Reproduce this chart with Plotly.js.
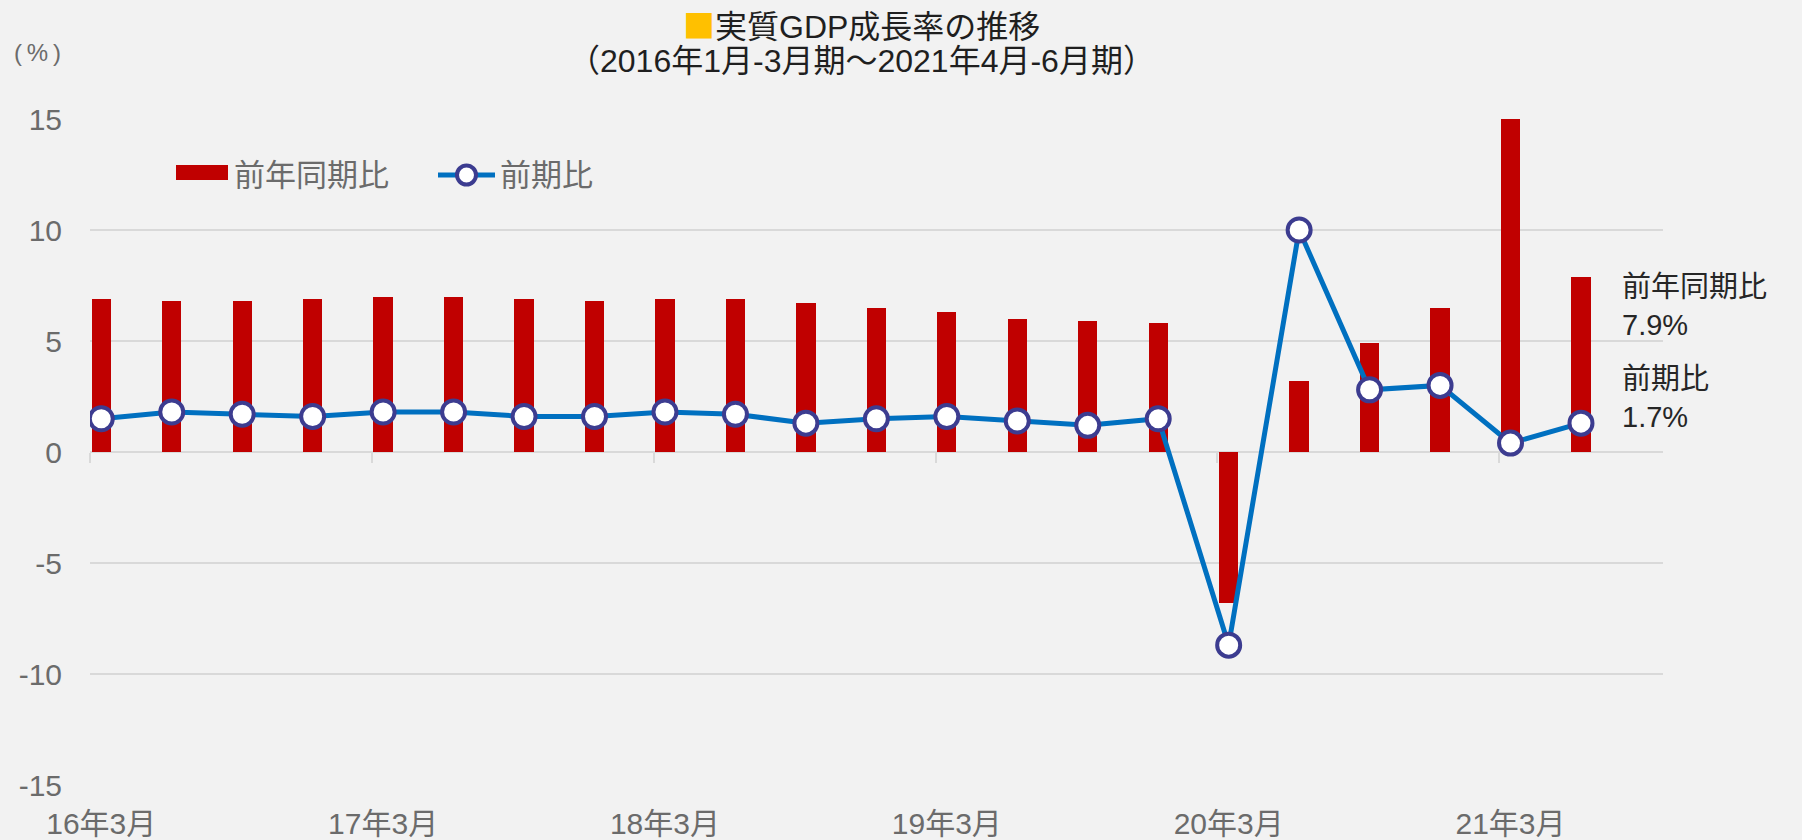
<!DOCTYPE html>
<html>
<head>
<meta charset="utf-8">
<script src="https://cdn.plot.ly/plotly-3.0.1.min.js"></script>
<style>
  html, body { margin: 0; padding: 0; background: #f2f2f2; }
  #chart { width: 1802px; height: 840px; }
</style>
</head>
<body>
<div id="chart"></div>
<script>
// ---- data ----
const quarters = [
  "16年3月","16年6月","16年9月","16年12月",
  "17年3月","17年6月","17年9月","17年12月",
  "18年3月","18年6月","18年9月","18年12月",
  "19年3月","19年6月","19年9月","19年12月",
  "20年3月","20年6月","20年9月","20年12月",
  "21年3月","21年6月"
];
const yoy = [6.9, 6.8, 6.8, 6.9, 7.0, 7.0, 6.9, 6.8, 6.9, 6.9, 6.7, 6.5,
             6.3, 6.0, 5.9, 5.8, -6.8, 3.2, 4.9, 6.5, 18.3, 7.9];
const qoq = [1.5, 1.8, 1.7, 1.6, 1.8, 1.8, 1.6, 1.6, 1.8, 1.7, 1.3, 1.5,
             1.6, 1.4, 1.2, 1.5, -8.7, 10.0, 2.8, 3.0, 0.4, 1.3];
const tickLabels = ["16年3月","17年3月","18年3月","19年3月","20年3月","21年3月"];
const yTicks = [-15, -10, -5, 0, 5, 10, 15];
const yTickText = ["-15", "-10", "-5", "0", "5", "10", "15"];
const seriesNames = ["前年同期比", "前期比"];
const lastNotes = ["前年同期比<br>7.9%", "前期比<br>1.7%"];
const titleLines = [
  '<span style="color:#FFC000;font-family:\'Noto Sans CJK JP\'">■</span>実質GDP成長率の推移',
  '（2016年1月-3月期～2021年4月-6月期）'
];

const FONT = "'Liberation Sans', Arial, 'Noto Sans CJK JP', sans-serif";
const RED = "#C00000", BLUE = "#0070C0", NAVY = "#3C3C90";
const GRID = "#d9d9d9", AXT = "#6b6b6b";

const xRange = [-0.16, quarters.length - 1 + 1.164];
// tick marks sit slightly left of each labelled quarter
const tickMarkPos = tickLabels.map(t => quarters.indexOf(t) - 0.16);

const traces = [
  {
    type: "bar", name: seriesNames[0], x: quarters, y: yoy,
    width: 0.274, marker: { color: RED }, showlegend: false, hoverinfo: "x+y"
  },
  {
    type: "scatter", mode: "lines+markers", name: seriesNames[1], x: quarters, y: qoq,
    line: { color: BLUE, width: 5 },
    marker: { symbol: "circle", size: 23, color: "#ffffff", line: { color: NAVY, width: 4 } },
    showlegend: false, hoverinfo: "x+y"
  },
  { type: "scatter", x: [], y: [], xaxis: "x2", yaxis: "y", showlegend: false, hoverinfo: "skip" }
];

// legend drawn to match the reference look
const L = 90, T = 119, W = 1573, H = 666;
const px = v => (v - L) / W, py = v => (T + H - v) / H;

const layout = {
  width: 1802, height: 840,
  paper_bgcolor: "#f2f2f2", plot_bgcolor: "#f2f2f2",
  margin: { l: 90, r: 139, t: 119, b: 55, pad: 0 },
  font: { family: FONT, color: AXT, size: 30 },
  xaxis: {
    type: "category", categoryorder: "array", categoryarray: quarters,
    range: xRange, tickmode: "array", tickvals: tickLabels, ticktext: tickLabels,
    ticks: "", showgrid: false, zeroline: false, showline: false,
    tickfont: { family: FONT, size: 30, color: AXT }, ticklabelstandoff: 18,
    fixedrange: true
  },
  xaxis2: {
    overlaying: "x", anchor: "free", position: 0.5, side: "bottom",
    type: "linear", range: xRange, tickmode: "array", tickvals: tickMarkPos,
    ticks: "outside", ticklen: 10, tickwidth: 2, tickcolor: GRID,
    showticklabels: false, showgrid: false, zeroline: false, showline: false
  },
  yaxis: {
    range: [-15, 15], tickmode: "array", tickvals: yTicks, ticktext: yTickText,
    ticks: "", showgrid: true, gridcolor: GRID, gridwidth: 2,
    zeroline: true, zerolinecolor: GRID, zerolinewidth: 2, showline: false,
    tickfont: { family: FONT, size: 30, color: AXT }, ticklabelstandoff: 27,
    fixedrange: true
  },
  bargap: 0,
  shapes: [
    { type: "rect", xref: "paper", yref: "paper", x0: px(176), x1: px(228), y0: py(180), y1: py(165),
      fillcolor: RED, line: { width: 0 } },
    { type: "line", xref: "paper", yref: "paper", x0: px(438), x1: px(495), y0: py(175), y1: py(175),
      line: { color: BLUE, width: 5 } },
    { type: "circle", xref: "paper", yref: "paper", xsizemode: "pixel", ysizemode: "pixel",
      xanchor: px(466.5), yanchor: py(175), x0: -9.5, x1: 9.5, y0: -9.5, y1: 9.5,
      fillcolor: "#ffffff", line: { color: NAVY, width: 4 } }
  ],
  annotations: [
    { text: titleLines[0], xref: "paper", yref: "paper", x: px(861), y: py(24),
      xanchor: "center", yanchor: "middle", showarrow: false,
      font: { size: 32, color: "#1f1f1f" } },
    { text: titleLines[1], xref: "paper", yref: "paper", x: px(861), y: py(61),
      xanchor: "center", yanchor: "middle", showarrow: false,
      font: { size: 32, color: "#1f1f1f" } },
    { text: seriesNames[0], xref: "paper", yref: "paper", x: px(232), y: py(175),
      xanchor: "left", yanchor: "middle", showarrow: false, font: { size: 31, color: AXT } },
    { text: seriesNames[1], xref: "paper", yref: "paper", x: px(498), y: py(175),
      xanchor: "left", yanchor: "middle", showarrow: false, font: { size: 31, color: AXT } },
    { text: lastNotes[0], xref: "paper", yref: "paper", x: px(1620), y: py(306),
      xanchor: "left", yanchor: "middle", align: "left", showarrow: false,
      font: { size: 29, color: "#262626" } },
    { text: lastNotes[1], xref: "paper", yref: "paper", x: px(1620), y: py(398),
      xanchor: "left", yanchor: "middle", align: "left", showarrow: false,
      font: { size: 29, color: "#262626" } },
    { text: "(\u2009%\u2009)", xref: "paper", yref: "paper", x: px(37), y: py(52),
      xanchor: "center", yanchor: "middle", showarrow: false,
      font: { size: 24, color: AXT } }
  ]
};

Plotly.newPlot("chart", traces, layout, { displayModeBar: false, staticPlot: true });
</script>
</body>
</html>
